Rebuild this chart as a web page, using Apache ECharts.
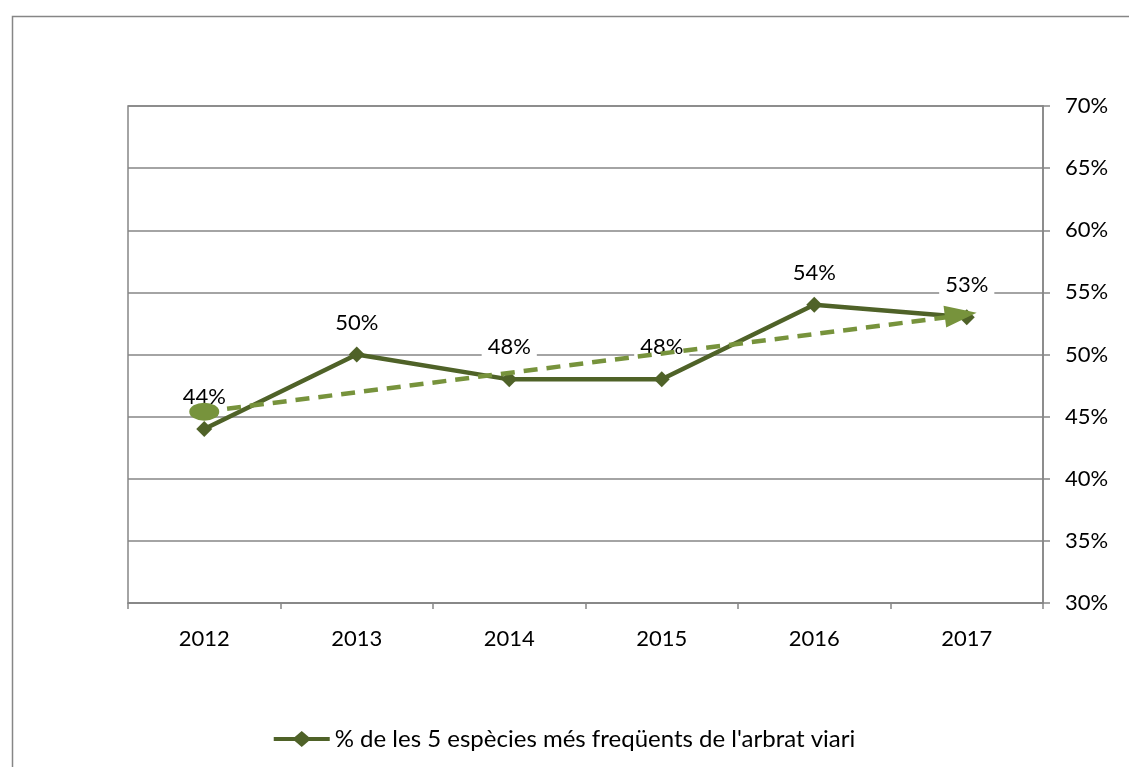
<!DOCTYPE html>
<html>
<head>
<meta charset="utf-8">
<script src="https://cdn.jsdelivr.net/npm/echarts@6/dist/echarts.min.js"></script>
<style>
html,body{margin:0;padding:0;background:#fff;}
#c{width:1129px;height:767px;}
</style>
</head>
<body>
<div id="c"></div>
<script>
const categories = ['2012','2013','2014','2015','2016','2017'];
const values = [44, 50, 48, 48, 54, 53];
const trendValues = [45.4, null, null, null, null, 53.2];
const seriesName = "% de les 5 espècies més freqüents de l'arbrat viari";
const yMin = 30, yMax = 70, yStep = 5;

const FONT = 'Lato, "Noto Sans", sans-serif';
const dark = '#4F6228';
const light = '#77933C';
const gridCol = '#868686';

const chart = echarts.init(document.getElementById('c'), null, {renderer:'canvas'});
chart.setOption({
  animation: false,
  backgroundColor: '#fff',
  textStyle: {fontFamily: FONT},
  graphic: [{
    type: 'rect', left: 10, top: 14, z: -1,
    shape: {width: 1200, height: 800},
    style: {fill: 'none', stroke: gridCol, lineWidth: 1.5}
  }],
  grid: {left: 128, top: 106, right: 86, bottom: 164, show: true, borderColor: gridCol, borderWidth: 1.5, backgroundColor: 'transparent'},
  legend: {
    bottom: 11, left: 'center',
    itemWidth: 56, itemHeight: 16, itemGap: 4,
    textStyle: {fontSize: 24, color: '#000', fontFamily: FONT},
    data: [{name: seriesName, icon: 'path://M0,6 L21,6 L28,0 L35,6 L56,6 L56,10 L35,10 L28,16 L21,10 L0,10 Z'}]
  },
  xAxis: {
    type: 'category', data: categories, boundaryGap: true,
    axisLine: {lineStyle: {color: gridCol, width: 1.5}},
    axisTick: {show: true, length: 6, lineStyle: {color: gridCol, width: 1.5}},
    axisLabel: {fontSize: 22, color: '#000', margin: 25, fontFamily: FONT}
  },
  yAxis: {
    type: 'value', position: 'right', min: yMin, max: yMax, interval: yStep,
    axisLine: {show: true, lineStyle: {color: gridCol, width: 1.5}},
    axisTick: {show: true, length: 7, lineStyle: {color: gridCol, width: 1.5}},
    splitLine: {lineStyle: {color: gridCol, width: 1.5}},
    axisLabel: {fontSize: 22, color: '#000', margin: 22, fontFamily: FONT, formatter: v => v + '%'}
  },
  series: [
    {
      name: seriesName, type: 'line', data: values,
      symbol: 'diamond', symbolSize: 16,
      lineStyle: {color: dark, width: 4.5},
      itemStyle: {color: dark},
      z: 3,
      label: {
        show: true, position: 'top', distance: 12,
        fontSize: 22, color: '#000', fontFamily: FONT,
        backgroundColor: '#fff', padding: [1, 6],
        formatter: p => p.value + '%'
      }
    },
    {
      name: 'trend', type: 'line', connectNulls: true,
      data: trendValues.map((v, i) => {
        if (v === null) return null;
        if (i === 0) return {value: v, symbol: 'circle', symbolSize: [30, 18]};
        return {value: v, symbol: 'triangle', symbolSize: [22, 32], symbolRotate: -83, symbolOffset: [-6, 0]};
      }),
      lineStyle: {color: light, width: 4.5, type: [14, 9]},
      itemStyle: {color: light},
      z: 4,
      silent: true,
      label: {show: false}
    }
  ]
});
</script>
</body>
</html>
